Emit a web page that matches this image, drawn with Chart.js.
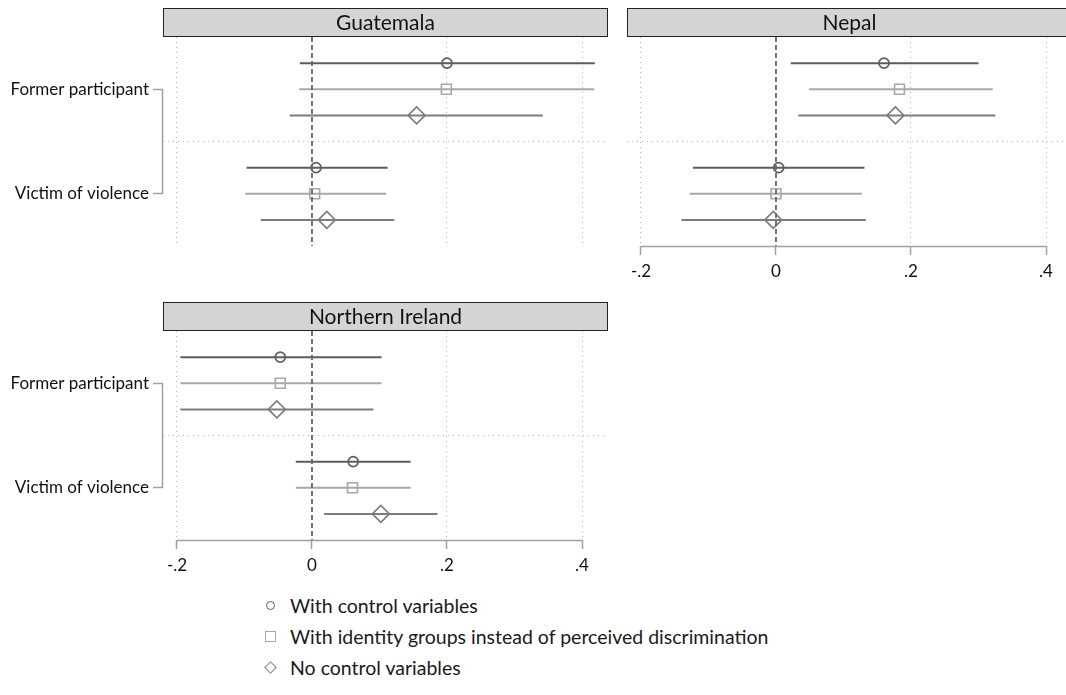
<!DOCTYPE html>
<html>
<head>
<meta charset="utf-8">
<script src="https://cdn.jsdelivr.net/npm/chart.js@4/dist/chart.umd.min.js"></script>
<style>
  html, body { margin: 0; padding: 0; background: #fff; overflow: hidden; width: 1066px; height: 695px; }
  canvas { position: absolute; }
  .legend { position: absolute; left: 263px; top: 590px; font-family: Lato, sans-serif; font-size: 19.5px; color: #1a1a1a; }
  .legend div { height: 31px; line-height: 31px; display: flex; align-items: center; }
  .mk { display: inline-block; box-sizing: border-box; margin-right: 15px; }
  .mk.circle { width: 9px; height: 9px; border: 1.5px solid #5f5f5f; border-radius: 50%; margin-left: 3px; }
  .mk.square { width: 11px; height: 11px; border: 1.5px solid #a8a8a8; margin-left: 2px; margin-right: 14px; }
  .mk.diamond { width: 9px; height: 9px; border: 1.5px solid #808080; transform: rotate(45deg); margin-left: 3px; }
</style>
</head>
<body>
<canvas id="gtm" width="620" height="290" style="left:0;top:0"></canvas>
<canvas id="npl" width="471" height="290" style="left:613px;top:0"></canvas>
<canvas id="nir" width="620" height="290" style="left:0;top:294px"></canvas>
<div class="legend" id="legend"></div>
<script>
const categories = ['Former participant', 'Victim of violence'];
const seriesNames = ['With control variables', 'With identity groups instead of perceived discrimination', 'No control variables'];
const xTicks = [-0.2, 0, 0.2, 0.4];
const xTickLabels = ['-.2', '0', '.2', '.4'];

// order: [former: control, identity, none, victim: control, identity, none]
const gtmEst = [0.200, 0.199, 0.155, 0.006, 0.004, 0.022];
const gtmLo  = [-0.018, -0.019, -0.033, -0.097, -0.099, -0.076];
const gtmHi  = [0.419, 0.418, 0.342, 0.112, 0.110, 0.122];

const nplEst = [0.160, 0.183, 0.177, 0.004, 0.000, -0.004];
const nplLo  = [0.022, 0.049, 0.033, -0.123, -0.128, -0.140];
const nplHi  = [0.300, 0.321, 0.325, 0.131, 0.127, 0.133];

const nirEst = [-0.047, -0.047, -0.052, 0.061, 0.060, 0.102];
const nirLo  = [-0.195, -0.195, -0.195, -0.024, -0.024, 0.018];
const nirHi  = [0.103, 0.103, 0.091, 0.146, 0.146, 0.186];

const colors = ['#5c5c5c', '#a8a8a8', '#7c7c7c'];
const markers = ['circle', 'rect', 'rectRot'];
const markerSize = [5, 7, 8.5];

const headerPlugin = {
  id: 'header',
  afterDraw(chart, args, opts) {
    const { ctx, chartArea, scales } = chart;
    ctx.save();
    // panel header
    ctx.fillStyle = '#d4d4d4';
    ctx.fillRect(chartArea.left, chartArea.top - 29, chartArea.right - chartArea.left, 29);
    ctx.strokeStyle = '#222';
    ctx.lineWidth = 1;
    ctx.strokeRect(chartArea.left + 0.5, chartArea.top - 28.5, chartArea.right - chartArea.left - 1, 28);
    ctx.fillStyle = '#111';
    ctx.font = '21px Lato';
    ctx.textAlign = 'center';
    ctx.textBaseline = 'middle';
    ctx.fillText(opts.title, (chartArea.left + chartArea.right) / 2, chartArea.top - 14);
    ctx.strokeStyle = '#a0a0a0';
    ctx.lineWidth = 1.5;
    // x axis line only over the tick range
    if (opts.xAxis) {
      const y = chartArea.bottom + 0.5;
      ctx.beginPath();
      ctx.moveTo(scales.x.getPixelForValue(xTicks[0]), y);
      ctx.lineTo(scales.x.getPixelForValue(xTicks[xTicks.length - 1]), y);
      ctx.stroke();
    }
    // y bracket between the two labels
    if (opts.yAxis) {
      const x = chartArea.left - 0.5;
      ctx.beginPath();
      ctx.moveTo(x, scales.y.getPixelForValue(2));
      ctx.lineTo(x, scales.y.getPixelForValue(6));
      ctx.stroke();
    }
    ctx.restore();
  }
};

function makePanel(id, title, est, lo, hi, showX, showY, yWidth) {
  const datasets = [{
    data: [{ x: 0, y: 0 }, { x: 0, y: 8 }],
    showLine: true, borderColor: '#666', borderWidth: 1.8, borderDash: [5, 3], pointRadius: 0
  }];
  categories.forEach((c, g) => {
    seriesNames.forEach((s, k) => {
      const i = g * 3 + k;
      const y = g * 4 + k + 1;
      datasets.push({
        data: [{ x: lo[i], y }, { x: hi[i], y }],
        showLine: true, borderColor: colors[k], borderWidth: 2, pointRadius: 0
      });
    });
  });
  seriesNames.forEach((s, k) => {
    datasets.push({
      label: s,
      data: categories.map((c, g) => ({ x: est[g * 3 + k], y: g * 4 + k + 1 })),
      pointStyle: markers[k], pointRadius: markerSize[k], pointBorderWidth: 1.6,
      pointBorderColor: colors[k], pointBackgroundColor: '#fff'
    });
  });

  new Chart(document.getElementById(id), {
    type: 'scatter',
    data: { datasets },
    plugins: [headerPlugin],
    options: {
      responsive: false,
      animation: false,
      layout: { padding: { top: 37, right: 12, left: 0, bottom: 0 } },
      plugins: {
        legend: { display: false },
        tooltip: { enabled: false },
        header: { title, xAxis: showX, yAxis: showY }
      },
      scales: {
        x: {
          type: 'linear', min: -0.2207, max: 0.4385,
          afterBuildTicks: s => { s.ticks = xTicks.map(v => ({ value: v })); },
          afterFit: s => { s.height = 44; },
          border: { display: false, dash: [1, 4] },
          grid: {
            color: c => (c.tick && c.tick.value === 0) ? 'transparent' : '#b4b4b4',
            tickColor: '#a0a0a0', tickWidth: 1.5, tickLength: showX ? 9 : 0,
            drawTicks: showX
          },
          ticks: {
            display: showX, padding: 6, color: '#111',
            font: { family: 'Lato', size: 17 },
            callback: (v, i) => xTickLabels[i]
          }
        },
        y: {
          type: 'linear', min: 0, max: 8, reverse: true,
          afterBuildTicks: s => { s.ticks = [2, 4, 6].map(v => ({ value: v })); },
          afterFit: s => { s.width = yWidth; },
          border: { display: false, dash: [1, 4] },
          grid: {
            color: c => (c.tick && c.tick.value === 4) ? '#b4b4b4' : 'transparent',
            tickColor: c => (c.tick && c.tick.value === 4) ? 'transparent' : '#a0a0a0',
            tickWidth: 1.5, tickLength: showY ? 10 : 0, drawTicks: showY
          },
          ticks: {
            display: showY, padding: 4, color: '#111',
            font: { family: 'Lato', size: 17 },
            callback: v => v === 2 ? categories[0] : v === 6 ? categories[1] : ''
          }
        }
      }
    }
  });
}

makePanel('gtm', 'Guatemala', gtmEst, gtmLo, gtmHi, false, true, 163);
makePanel('npl', 'Nepal', nplEst, nplLo, nplHi, true, false, 14);
makePanel('nir', 'Northern Ireland', nirEst, nirLo, nirHi, true, true, 163);

const legend = document.getElementById('legend');
const mkClass = ['circle', 'square', 'diamond'];
seriesNames.forEach((s, k) => {
  const row = document.createElement('div');
  row.innerHTML = `<span class="mk ${mkClass[k]}"></span><span>${s}</span>`;
  legend.appendChild(row);
});
</script>
</body>
</html>
